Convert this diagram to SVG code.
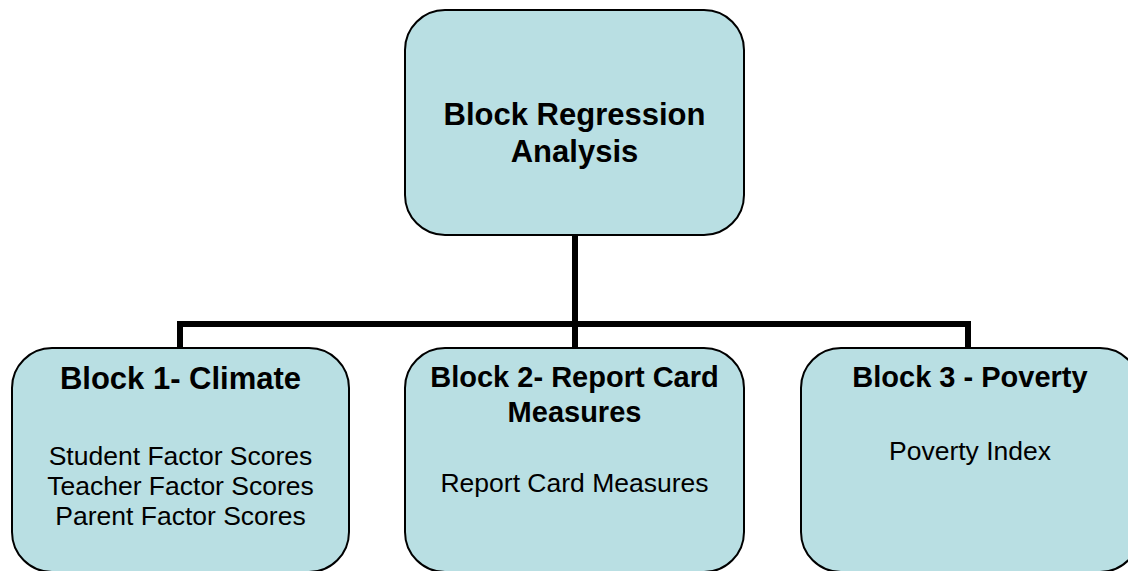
<svg xmlns="http://www.w3.org/2000/svg" width="1128" height="571" viewBox="0 0 1128 571">
<style>
.box{fill:#B9DFE3;stroke:#000;stroke-width:2}
.conn{fill:none;stroke:#000;stroke-width:6}
.t{font-family:"Liberation Sans",Arial,sans-serif;font-weight:bold;font-size:29px;text-anchor:middle;fill:#000}
.tl{font-size:31px}
.b{font-family:"Liberation Sans",Arial,sans-serif;font-size:26.5px;text-anchor:middle;fill:#000}
</style>
<rect width="1128" height="571" fill="#fff"/>
<g id="connectors">
<line class="conn" x1="575" y1="235" x2="575" y2="348"/>
<polyline class="conn" points="180,348 180,324 968,324 968,348"/>
</g>
<g id="root">
<rect class="box" x="405" y="10" width="339" height="225" rx="40" ry="40"/>
<text class="t tl" x="574.5" y="125">Block Regression</text>
<text class="t tl" x="574.5" y="162">Analysis</text>
</g>
<g id="block1">
<rect class="box" x="12" y="348" width="337" height="224" rx="40" ry="40"/>
<text class="t tl" x="180.5" y="389">Block 1- Climate</text>
<text class="b" x="180.5" y="465">Student Factor Scores</text>
<text class="b" x="180.5" y="495">Teacher Factor Scores</text>
<text class="b" x="180.5" y="525">Parent Factor Scores</text>
</g>
<g id="block2">
<rect class="box" x="405" y="348" width="339" height="224" rx="40" ry="40"/>
<text class="t" x="574.5" y="387">Block 2- Report Card</text>
<text class="t" x="574.5" y="422">Measures</text>
<text class="b" x="574.5" y="492">Report Card Measures</text>
</g>
<g id="block3">
<rect class="box" x="801" y="348" width="339" height="224" rx="40" ry="40"/>
<text class="t" x="970" y="387">Block 3 - Poverty</text>
<text class="b" x="970" y="460">Poverty Index</text>
</g>
</svg>
